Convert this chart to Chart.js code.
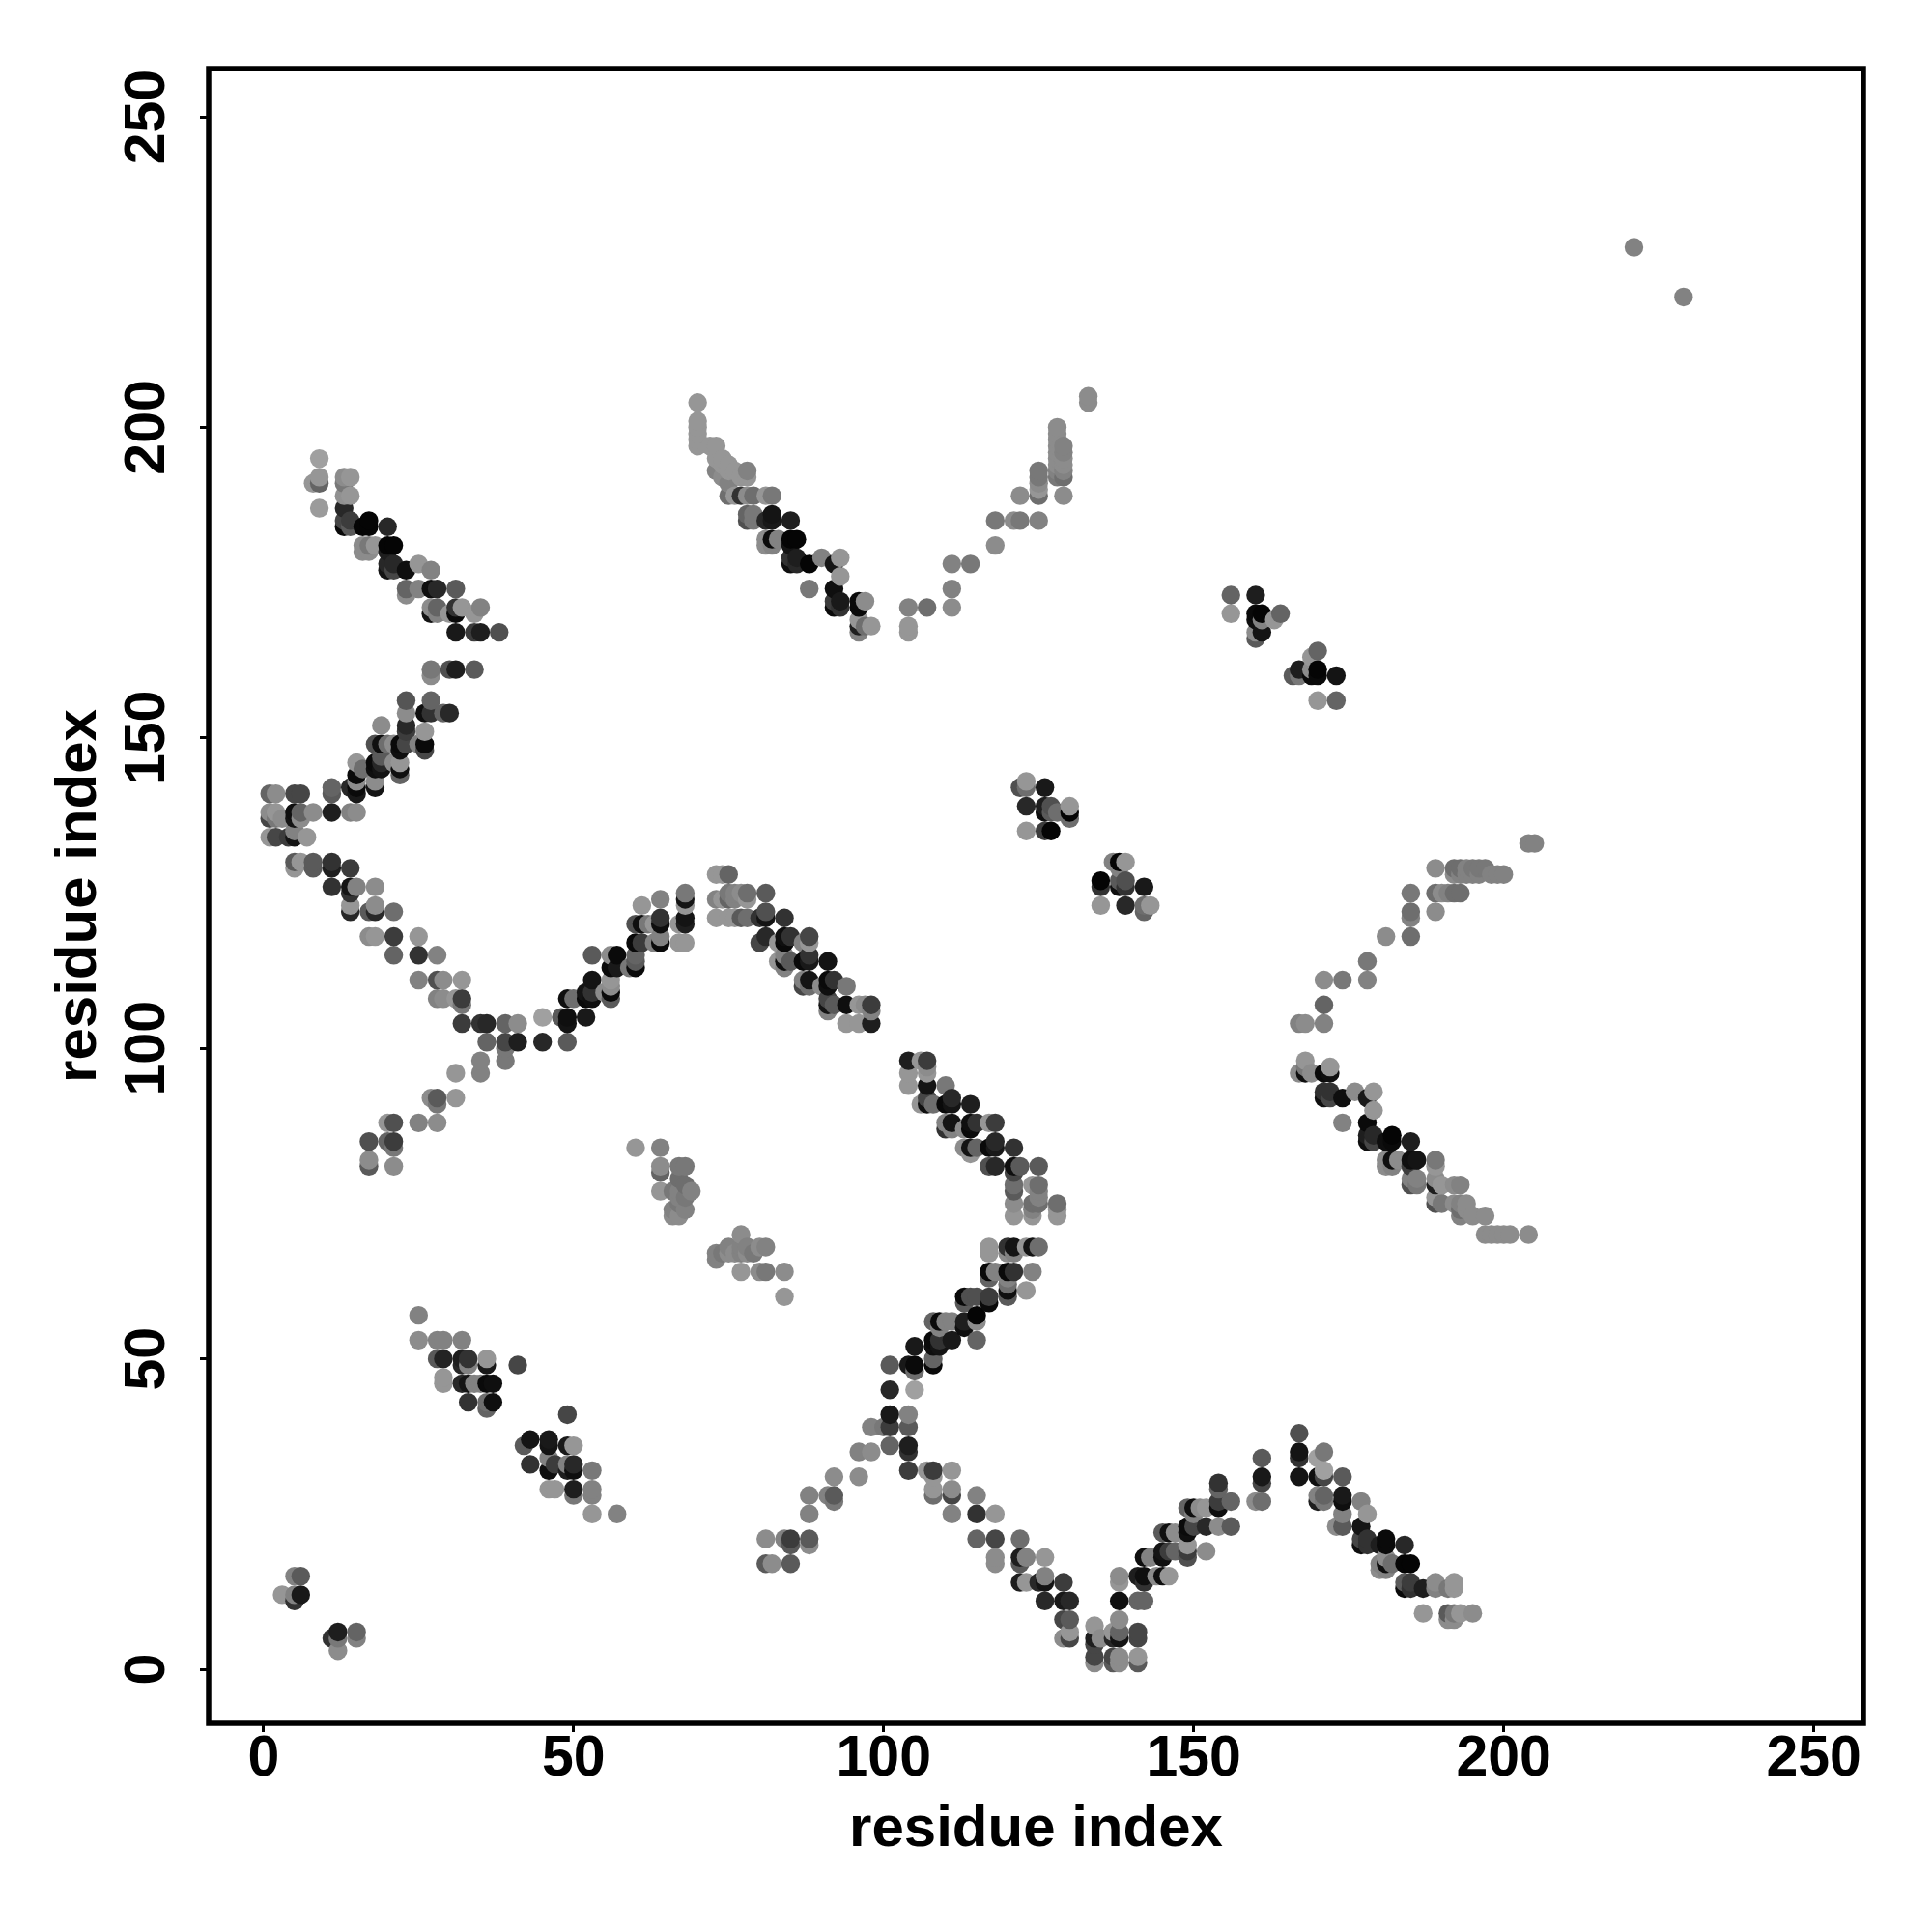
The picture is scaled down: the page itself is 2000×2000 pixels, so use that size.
<!DOCTYPE html>
<html>
<head>
<meta charset="utf-8">
<title>residue contact map</title>
<script src="https://cdn.jsdelivr.net/npm/chart.js@4/dist/chart.umd.min.js"></script>
<style>
  html, body { margin: 0; padding: 0; background: #fff; }
  canvas { display: block; }
</style>
</head>
<body>
<canvas id="contactMap" width="2000" height="2000"></canvas>
<script>
// ======================================
// DATA: [residue x, residue y, grey level] - low level = strong contact
// ======================================
const tickValues = [0, 50, 100, 150, 200, 250];
const axisLabel = 'residue index';

const upperLeftArm = [
  [9,195,160],[8,191,150],[9,192,150],[9,191,100],[9,187,155],[13,192,140],[14,192,150],[13,191,120],[13,189,145],[14,189,150],
  [13,187,40],[13,184,10],[13,185,70],[14,185,60],[14,184,90],[16,184,5],[17,185,5],[17,184,5],[20,184,40],
  [16,181,140],[16,180,140],[17,181,120],[17,180,140],[18,181,150],[20,181,5],[21,181,5],[20,180,30],
  [20,178,40],[20,177,20],[21,178,40],[21,177,70],[23,177,15],[25,178,150],[27,177,130],
  [23,174,100],[23,173,140],[25,174,130],[27,174,15],[28,174,40],[31,174,90],
  [27,171,140],[27,170,20],[28,171,100],[28,170,130],[30,170,150],[31,171,50],[31,170,10],[32,171,150],[34,170,150],[35,171,130],
  [31,167,25],[34,167,60],[35,167,30],[38,167,80],
  [27,161,120],[27,160,140],[30,161,80],[31,161,30],[34,161,90]
];

const leftRisingArm = [
  [23,156,85],[27,156,100],[23,154,140],[26,154,15],[27,154,50],[29,154,100],[30,154,40],
  [19,152,140],[23,152,40],[23,151,60],[26,151,150],[26,149,10],[26,148,70],
  [18,149,80],[19,149,15],[20,149,110],[21,149,140],[22,149,10],[22,148,15],[23,149,70],[25,149,130],
  [19,147,90],[18,146,10],[18,145,15],[19,146,40],[19,145,20],[21,146,140],[22,146,150],[22,145,15],[22,144,100],
  [15,146,150],[15,144,10],[16,145,110],[15,143,140],[15,142,10],[15,141,25],[14,142,40],
  [18,143,140],[18,142,20],[11,142,100],[11,141,90]
];

const leftCorner = [
  [1,141,100],[2,141,140],[5,141,70],[6,141,70],[11,138,30],[14,138,130],[15,138,140],
  [1,138,140],[2,138,150],[1,137,70],[2,137,120],[3,137,140],[5,138,15],[5,137,20],[6,138,100],[6,137,140],[8,138,140],
  [1,134,150],[2,134,70],[4,134,60],[5,134,20],[5,135,130],[7,134,150]
];

const leftFallingArm = [
  [5,130,90],[5,129,150],[6,130,150],[8,130,90],[8,129,90],[11,130,50],[11,129,30],[14,129,60],
  [11,126,50],[14,126,20],[14,125,50],[15,126,130],[18,126,140],
  [14,123,150],[14,122,40],[17,122,90],[18,123,140],[18,122,40],[21,122,110],
  [17,118,140],[18,118,150],[21,118,60],[25,118,150],[21,115,100],[25,115,50],[28,115,130],
  [25,111,130],[28,111,80],[29,111,140],[32,111,150],[28,108,130],[29,108,140],[31,108,150],[32,108,60],[32,107,120],
  [32,104,60],[35,104,50],[36,104,40],[39,104,100],[41,104,140],[36,101,100],[39,101,70],[39,100,120],[41,101,30],[45,101,40],[49,101,90]
];

const lowerLeftTail = [
  [35,98,130],[39,98,120],[31,96,150],[35,96,130],[27,92,140],[28,92,90],[28,91,120],[31,92,150],
  [20,88,150],[21,88,80],[25,88,130],[28,88,140],[17,85,80],[20,85,100],[21,85,60],[21,84,120],[17,82,140],[17,81,90],[21,81,140]
];

const centreRisingArm = [
  [45,105,160],[48,105,90],[49,105,15],[49,104,20],[52,105,25],
  [49,108,15],[50,108,110],[52,108,10],[53,111,20],[52,109,20],[53,109,50],[53,108,15],[56,111,150],[56,110,140],[55,109,140],[56,109,10],[56,108,90],
  [53,115,90],[56,115,140],[57,115,10],[56,113,10],[57,113,25],[59,113,120],[60,115,100],[60,114,90],[60,113,10],
  [60,117,10],[61,117,60],[63,117,130],[64,118,130],[64,117,10],
  [61,123,150],[64,124,130],[60,120,80],[61,120,15],[62,120,120],[63,120,150],[64,121,50],[64,120,15],
  [67,120,150],[68,125,120],[68,124,20],[68,123,150],[68,121,20],[68,120,30],[67,117,150],[68,117,150]
];

const centreFallingArm = [
  [73,128,150],[74,128,150],[75,128,100],[73,124,130],[74,124,150],[75,125,120],[75,124,100],[76,125,130],[76,124,130],[77,125,140],[78,125,110],[78,124,150],[81,125,90],
  [73,121,150],[75,121,150],[76,121,150],[77,121,90],[78,121,110],[80,121,50],[81,122,80],[81,121,20],[84,121,50],
  [80,117,70],[81,118,40],[83,117,150],[84,118,15],[84,117,10],[85,118,50],[87,117,130],[88,118,70],[88,117,150],
  [83,114,150],[84,115,130],[84,114,15],[84,113,130],[85,114,90],[87,114,10],[88,114,25],[88,115,50],[91,114,20],
  [87,111,130],[87,110,70],[88,111,20],[88,110,110],[90,110,140],[91,111,10],[91,110,15],[92,111,50],[94,110,120],
  [91,108,70],[91,107,20],[91,106,130],[92,107,90],[94,107,15],[96,107,150],[97,107,140],[98,107,60],[98,106,130],[94,104,150],[96,104,150],[98,104,30]
];

const centreLowerFall = [
  [104,98,30],[106,98,150],[107,98,60],[104,96,150],[104,94,150],[107,96,150],[107,97,140],[107,94,20],[110,94,120],
  [106,91,150],[107,92,70],[107,91,15],[108,91,110],[110,91,10],[111,92,40],[111,91,20],[114,91,30],
  [110,88,130],[110,87,50],[111,88,20],[111,87,130],[113,87,140],[114,88,15],[114,87,10],[115,88,50],[117,88,150],[118,88,60],
  [113,84,140],[114,84,20],[114,83,150],[115,84,100],[117,84,10],[118,85,40],[118,84,25],[121,84,50],
  [117,81,80],[118,81,40],[121,81,15],[121,80,70],[122,81,90],[125,81,90],
  [121,78,110],[121,77,90],[121,75,140],[121,73,150],[124,78,150],[125,78,110],[125,77,130],[125,76,130],[124,75,110],[125,75,110],[124,74,130],[124,73,150],[128,75,110],[128,74,150],[128,73,150]
];

const centreLowerRise = [
  [117,68,150],[117,67,150],[120,68,50],[121,68,20],[120,67,140],[121,67,130],[123,68,150],[124,68,20],[125,68,110],
  [117,64,10],[118,64,130],[117,63,100],[120,64,10],[121,64,50],[124,64,130],[120,63,130],[120,62,110],[120,60,90],[120,61,15],[123,61,150],
  [117,60,60],[117,59,10],[113,60,10],[114,60,80],[115,60,80],[113,59,90],
  [113,56,30],[113,55,15],[115,57,5],[115,56,140],[115,53,100],[108,56,100],[109,56,10],[109,55,130],[110,56,130],[111,56,130],
  [108,53,10],[108,52,15],[109,53,50],[109,52,20],[111,53,25],[105,52,25],[108,50,100],[108,49,10],
  [101,49,90],[104,49,25],[105,49,10],[105,48,110],[101,45,40],[105,45,160],
  [101,41,25],[101,39,60],[100,39,120],[98,39,130],[101,36,100],[104,41,130],[104,39,90],[104,36,30],[104,35,50],[104,32,60]
];

const lowerValleyLeft = [
  [96,35,130],[98,35,140],[92,31,140],[96,31,140],[88,28,130],[91,28,130],[92,28,90],[92,27,120],[88,25,130],
  [81,21,140],[84,21,130],[85,21,60],[85,20,90],[88,21,90],[88,20,140],[81,17,90],[82,17,140],[85,17,90],
  [107,32,150],[108,32,60],[108,31,150],[111,32,150],[108,29,150],[108,28,110],[111,29,140],[111,28,70],[111,25,130],[115,28,130],[115,25,50],[118,25,150],
  [115,21,100],[118,21,70],[122,21,110],[118,18,140],[118,17,140],[122,18,30],[122,17,90],[123,18,130],[126,18,150],
  [122,14,30],[123,14,150],[125,14,40],[126,14,20],[126,15,130],[129,14,60],[126,11,40],[129,11,25],[130,11,40],
  [129,8,70],[130,8,90],[130,6,150],[129,5,140],[130,5,70]
];

const lowerValleyBottom = [
  [134,7,150],[134,5,30],[135,5,140],[134,4,70],[134,2,70],[134,1,140],[138,8,140],[138,6,100],[138,5,20],[137,5,40],[137,6,150],
  [137,2,70],[137,1,90],[138,2,140],[138,1,140],[138,15,140],[138,14,150],[138,11,15],[141,11,100],[142,11,100],
  [141,6,70],[141,5,70],[141,2,150],[141,1,90]
];

const lowerPeak = [
  [141,15,30],[142,15,15],[142,14,50],[144,15,140],[145,15,15],[146,15,150],[142,18,15],[143,18,130],[145,19,20],[145,18,15],[146,19,60],[147,19,100],[149,20,150],[149,19,60],[149,18,80],[152,19,140],
  [145,22,90],[146,22,15],[147,22,140],[149,23,10],[149,22,15],[150,23,70],[152,23,40],[154,23,140],[156,23,90],
  [149,26,100],[150,26,15],[151,26,140],[152,26,150],[150,25,130],[154,26,15],[154,27,60],[154,29,100],[154,30,50],[156,27,100],
  [160,27,140],[161,27,110],[161,30,70],[161,31,25],[161,34,90],[167,38,80],[167,35,20],[167,34,50],[167,31,20],
  [170,34,160],[171,35,120],[170,31,15],[171,31,70],[171,32,160],[174,31,90],[170,28,130],[170,27,30],[171,28,100],[171,27,120],[174,28,25],[174,27,15],[174,25,130],[173,23,140],[174,23,90],[177,27,130],[178,25,150],
  [177,23,20],[177,21,70],[177,20,15],[178,21,50],[178,20,50],[181,21,10],[180,20,30],[181,20,10],[184,20,40],
  [180,17,130],[180,16,140],[181,18,140],[181,17,15],[182,17,110],[181,16,130],[184,17,5],[185,17,5],
  [184,14,90],[184,13,10],[185,14,60],[185,13,50],[187,13,30],[189,14,140],[189,13,130],[191,13,120],[192,14,150],[192,13,150],
  [187,9,150],[191,9,90],[191,8,140],[192,9,120],[192,8,140],[193,9,150],[195,9,140]
];

const rightLowerArm = [
  [168,98,150],[167,96,140],[168,97,120],[168,96,15],[169,96,140],[171,96,10],[172,96,15],[172,97,150],
  [171,93,50],[171,92,15],[172,93,50],[172,92,70],[174,92,15],[176,93,140],[178,92,25],[179,93,150],[174,88,130],[178,88,10],[179,90,150],
  [178,86,30],[178,85,15],[179,86,40],[179,85,70],[181,85,15],[182,86,5],[182,85,10],[185,85,30],
  [181,82,140],[181,81,140],[182,82,15],[182,81,130],[183,82,140],[185,82,15],[186,82,20],[185,81,60],[189,82,120],[189,81,150],
  [185,79,130],[185,78,80],[186,79,130],[186,78,120],[189,79,140],[189,78,30],[190,78,150],[189,76,150],[189,75,80],[190,75,120],[192,78,140],[193,78,130],
  [192,75,140],[193,75,130],[193,74,110],[193,73,130],[194,75,140],[194,74,140],[195,73,140],[197,73,140],
  [197,70,140],[198,70,140],[199,70,140],[200,70,140],[201,70,140],[204,70,140]
];

const rightUpperArm = [
  [171,107,100],[167,104,130],[168,104,140],[171,104,130],[171,111,140],[174,111,120],[178,111,130],[178,114,120],[181,118,140],[185,118,110],
  [185,122,110],[185,121,130],[189,122,140],[185,125,120],[189,125,110],[190,125,140],[191,125,130],[192,125,110],[193,125,110],
  [189,129,140],[192,129,110],[193,129,110],[194,129,130],[195,129,120],[196,129,120],[197,129,120],
  [192,128,140],[193,128,130],[194,128,130],[195,128,130],[196,128,130],[198,128,130],[199,128,130],[200,128,130],[204,133,130],[205,133,130]
];

const topFallingArm = [
  [70,204,150],[70,201,150],[70,200,150],[70,199,150],[70,198,150],[70,197,150],[72,197,150],[73,197,150],[73,195,150],[74,195,150],[73,193,130],[74,194,150],[74,192,140],[75,194,150],[75,193,150],[75,191,130],[75,189,110],[76,189,150],[76,193,150],
  [78,193,130],[78,192,150],[77,192,150],[77,189,50],[78,189,140],[79,189,110],[81,189,150],[82,189,120],
  [78,186,100],[78,185,80],[79,186,120],[79,185,120],[81,185,40],[82,186,20],[82,185,25],[85,185,30],
  [81,182,140],[81,181,140],[82,182,10],[82,181,130],[83,182,130],[85,182,5],[86,182,5],[85,181,20],
  [85,179,50],[85,178,15],[86,179,30],[86,178,40],[88,178,5],[90,179,130],[88,174,120],[92,178,20],[93,179,150],[93,176,150],[92,174,15],[92,172,60],[92,171,10],[93,172,25],[93,171,50],
  [96,172,10],[96,171,10],[97,172,140],[96,169,150],[96,168,30],[96,167,130],[97,168,110],[98,168,150]
];

const topRisingArm = [
  [104,171,130],[104,168,150],[104,167,150],[107,171,110],[111,171,140],[111,174,130],[111,178,130],[114,178,120],[118,181,140],[118,185,120],[121,185,140],[122,185,120],[125,185,130],
  [122,189,140],[125,189,110],[129,189,140],[125,193,120],[125,192,120],[125,191,140],[125,190,150],
  [128,200,140],[128,199,140],[128,198,140],[128,197,140],[128,196,140],[128,195,140],[128,194,140],[128,193,130],[128,192,120],
  [129,197,130],[129,196,130],[129,195,140],[129,194,140],[129,193,130],[129,192,110],[133,205,140],[133,204,140]
];

const rightClusters = [
  [156,173,100],[156,170,150],[160,173,30],[160,170,10],[161,170,5],[160,169,15],[161,169,130],[163,169,150],[164,170,100],[160,167,140],[160,166,90],[161,167,20],
  [170,164,100],[169,163,150],[166,160,90],[167,160,120],[167,161,30],[169,161,140],[169,160,10],[170,161,5],[170,160,10],[173,160,20],[170,156,150],[173,156,100],
  [122,142,80],[123,143,150],[123,142,110],[126,142,25],[123,139,40],[126,139,30],[126,138,15],[127,139,80],[127,138,90],[128,138,110],[130,139,150],[130,138,5],[130,137,110],
  [123,135,150],[126,135,60],[127,135,5],
  [137,130,130],[138,130,5],[139,130,150],[138,129,130],[135,127,5],[135,126,50],[138,127,90],[138,126,15],[139,127,80],[139,126,50],[142,126,25],
  [135,123,150],[139,123,40],[142,123,110],[142,122,100],[143,123,150],
  [221,229,130],[229,221,130]
];

const lowerLeftClusters = [
  [25,57,130],[25,53,140],[28,53,130],[29,53,130],[32,53,130],[28,50,90],[29,50,35],[32,50,30],[33,50,50],[32,49,40],[33,49,130],[36,50,150],[36,49,25],[41,49,70],
  [29,47,150],[29,46,150],[32,46,40],[33,46,20],[34,46,130],[35,46,130],[36,46,10],[37,46,15],[33,43,50],[36,43,110],[36,42,100],[37,43,15],
  [42,36,90],[43,37,20],[46,37,25],[46,36,20],[49,41,70],[49,36,25],[50,36,150],[43,33,50],[46,34,130],[46,32,15],[47,33,60],[49,33,130],[50,33,40],[50,32,15],[49,32,30],[53,32,120],
  [46,29,150],[47,29,150],[50,29,30],[50,28,120],[53,29,130],[53,28,130],[53,25,150],[57,25,130],
  [3,12,150],[5,15,130],[6,15,90],[5,11,50],[5,12,130],[6,12,25],[11,5,50],[12,6,30],[12,5,120],[12,3,140],[15,6,100],[15,5,130]
];

const centreClusters = [
  [60,84,150],[64,84,130],[64,81,140],[64,80,100],[64,77,150],[66,77,120],[67,81,120],[68,81,120],[67,79,110],[68,78,110],[67,77,130],[67,76,130],[68,76,120],[69,77,130],[67,75,120],[66,74,130],[68,74,130],[66,73,140],[67,73,140],
  [73,67,130],[74,67,120],[73,66,130],[75,67,140],[75,68,130],[76,67,140],[77,67,130],[77,70,140],[77,68,130],[77,64,150],[78,67,140],[78,68,130],[79,67,120],[80,68,140],[81,68,130],[80,64,140],[81,64,120],[84,64,140],[84,60,150]
];

const allContacts = [upperLeftArm, leftRisingArm, leftCorner, leftFallingArm, lowerLeftTail, centreRisingArm, centreFallingArm,
  centreLowerFall, centreLowerRise, lowerValleyLeft, lowerValleyBottom, lowerPeak, rightLowerArm, rightUpperArm, topFallingArm,
  topRisingArm, rightClusters, lowerLeftClusters, centreClusters].flat();

// original plot draws left to right, bottom to top
const ordered = allContacts.slice().sort((a, b) => a[0] - b[0] || a[1] - b[1]);

// ======================================
// CHART
// ======================================
const tickFont = { family: '"Liberation Sans", Arial, sans-serif', weight: 'bold', size: 59 };
const titleFont = { family: '"Liberation Sans", Arial, sans-serif', weight: 'bold', size: 60 };

const framePlugin = {
  id: 'frame',
  afterDatasetsDraw(chart) {
    const { ctx, chartArea: a } = chart;
    ctx.save();
    ctx.strokeStyle = '#000';
    ctx.lineWidth = 5.5;
    ctx.strokeRect(a.left, a.top, a.right - a.left, a.bottom - a.top);
    ctx.restore();
  }
};

function axisOptions(min, max, size, extra) {
  return {
    type: 'linear', min: min, max: max,
    afterBuildTicks: s => { s.ticks = tickValues.map(v => ({ value: v })); },
    afterFit: s => { if (s.isHorizontal()) s.height = size; else s.width = size; },
    border: { display: false },
    grid: { drawOnChartArea: false, drawTicks: true, tickLength: 9, tickWidth: 3, tickColor: '#000' },
    ...extra
  };
}

new Chart(document.getElementById('contactMap'), {
  type: 'scatter',
  data: {
    datasets: [{
      data: ordered.map(c => ({ x: c[0], y: c[1] })),
      backgroundColor: ordered.map(c => `rgb(${c[2]},${c[2]},${c[2]})`),
      borderWidth: 0,
      pointRadius: 9.7,
      pointHoverRadius: 9.7
    }]
  },
  options: {
    responsive: false,
    animation: false,
    layout: { padding: { top: 71, right: 71, left: 0, bottom: 0 } },
    plugins: { legend: { display: false }, tooltip: { enabled: false } },
    scales: {
      x: axisOptions(-8.85, 258, 216, {
        ticks: { color: '#000', font: tickFont, padding: -7, maxRotation: 0, autoSkip: false },
        title: { display: true, text: axisLabel, color: '#000', font: titleFont, padding: { top: 0, bottom: 70 } }
      }),
      y: axisOptions(-8.71, 257.79, 216, {
        ticks: { color: '#000', font: tickFont, padding: 4, minRotation: 90, maxRotation: 90, crossAlign: 'center', autoSkip: false },
        title: { display: true, text: axisLabel, color: '#000', font: titleFont, padding: { top: 46, bottom: 0 } }
      })
    }
  },
  plugins: [framePlugin]
});
</script>
</body>
</html>
